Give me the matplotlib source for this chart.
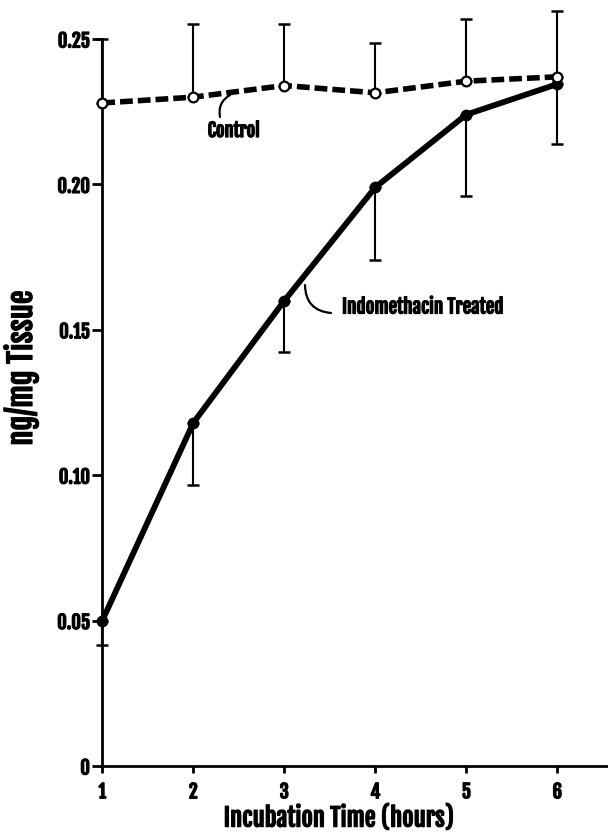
import matplotlib
matplotlib.use("Agg")
import matplotlib.pyplot as plt
from matplotlib import font_manager as fm
from matplotlib import patheffects as pe
from matplotlib.ticker import FixedLocator, FixedFormatter
from matplotlib.patches import FancyArrowPatch

# pick a condensed bold family if one is installed
available = set(f.name for f in fm.fontManager.ttflist)
prefs = ['Fjalla One', 'Roboto Condensed', 'Archivo Narrow', 'PT Sans Narrow',
         'Fira Sans Condensed', 'Barlow Condensed', 'Liberation Sans Narrow', 'DejaVu Sans']
FAMILY = next(p for p in prefs if p in available or p == 'DejaVu Sans')
plt.rcParams['font.family'] = [FAMILY, 'DejaVu Sans']
WEIGHT = 900
HEAVY = [pe.withStroke(linewidth=0.9, foreground='black')]

# Data
hours = [1, 2, 3, 4, 5, 6]
control_mean = [0.228, 0.230, 0.234, 0.2315, 0.2355, 0.237]
control_err_up = [0.022, 0.025, 0.021, 0.017, 0.0215, 0.0225]
indo_mean = [0.050, 0.118, 0.160, 0.199, 0.224, 0.2345]
indo_err_down = [0.0085, 0.0215, 0.0175, 0.025, 0.028, 0.0205]

xticks = [1, 2, 3, 4, 5, 6]
xtick_labels = ['1', '2', '3', '4', '5', '6']
yticks = [0, 0.05, 0.10, 0.15, 0.20, 0.25]
ytick_labels = ['0', '0.05', '0.10', '0.15', '0.20', '0.25']

W, H = 608, 835
fig = plt.figure(figsize=(W / 100, H / 100), dpi=100)
ax = fig.add_axes([102.3 / W, 1 - 766 / H, (W - 102.3) / W, (766 - 39) / H])
ax.set_xlim(1, 6.557)
ax.set_ylim(0, 0.25)

ax.errorbar(hours, control_mean, yerr=[[0] * 6, control_err_up], fmt='none',
            ecolor='black', elinewidth=1.5, capsize=4, capthick=1.8, clip_on=False, zorder=2)
ax.errorbar(hours, indo_mean, yerr=[indo_err_down, [0] * 6], fmt='none',
            ecolor='black', elinewidth=1.5, capsize=4.5, capthick=1.8, clip_on=False, zorder=2)

ax.plot(hours, indo_mean, color='black', lw=4.2, solid_capstyle='round',
        solid_joinstyle='round', marker='o', markersize=7.5, clip_on=False, zorder=3)
ax.plot(hours, control_mean, color='black', lw=4.0, dashes=(2.3, 0.9),
        dash_capstyle='butt', clip_on=False, zorder=4)
ax.plot(hours, control_mean, linestyle='none', marker='o', markersize=7,
        markerfacecolor='white', markeredgecolor='black', markeredgewidth=1.6,
        clip_on=False, zorder=5)

for s in ['top', 'right']:
    ax.spines[s].set_visible(False)
ax.spines['left'].set_linewidth(2)
ax.spines['bottom'].set_linewidth(2)

ax.xaxis.set_major_locator(FixedLocator(xticks))
ax.xaxis.set_major_formatter(FixedFormatter(xtick_labels))
ax.yaxis.set_major_locator(FixedLocator(yticks))
ax.yaxis.set_major_formatter(FixedFormatter(ytick_labels))
ax.tick_params(axis='x', direction='out', length=5, width=2, pad=6, labelsize=12)
ax.tick_params(axis='y', direction='out', length=7.5, width=2, pad=1.5, labelsize=12)


def px2data(px, py):
    return 1 + (px - 102.3) / 91.0, (766 - py) / 2908.0


# leader lines
for (a, b, rad) in [((220, 117), (230, 95), -0.35), ((331, 313), (305, 285), -0.45)]:
    p = FancyArrowPatch(px2data(*a), px2data(*b), arrowstyle='-',
                        connectionstyle=f'arc3,rad={rad}', lw=1.6, color='black',
                        shrinkA=0, shrinkB=0, zorder=6)
    ax.add_patch(p)

t_control = ax.text(*px2data(233.5, 131), 'Control', ha='center', va='center',
                    fontsize=10.5, fontweight=WEIGHT, path_effects=HEAVY)
t_indo = ax.text(*px2data(342, 307), 'Indomethacin Treated', ha='left', va='center',
                 fontsize=10.5, fontweight=WEIGHT, path_effects=HEAVY)
t_x = fig.text(338 / W, 1 - 818 / H, 'Incubation Time (hours)', ha='center', va='center',
               fontsize=17, fontweight=WEIGHT, path_effects=HEAVY)
t_y = fig.text(21 / W, 1 - 368 / H, 'ng/mg Tissue', ha='center', va='center',
               rotation=90, fontsize=16, fontweight=WEIGHT, path_effects=HEAVY)

# fit text sizes to the widths measured on the reference
fig.canvas.draw()
r = fig.canvas.get_renderer()
for t, target, horiz in [(t_control, 52, True), (t_indo, 161, True),
                         (t_x, 231, True), (t_y, 155, False)]:
    bb = t.get_window_extent(r)
    size = bb.width if horiz else bb.height
    t.set_fontsize(t.get_fontsize() * target / size)

probe = fig.text(0, 0, '0.25', fontsize=12, fontweight=WEIGHT)
fig.canvas.draw()
tick_fs = 12 * 32 / probe.get_window_extent(r).width
probe.remove()
ax.tick_params(labelsize=tick_fs)
for lab in ax.get_xticklabels() + ax.get_yticklabels():
    lab.set_fontweight(WEIGHT)
    lab.set_path_effects(HEAVY)

fig.savefig('out.png', dpi=100)
